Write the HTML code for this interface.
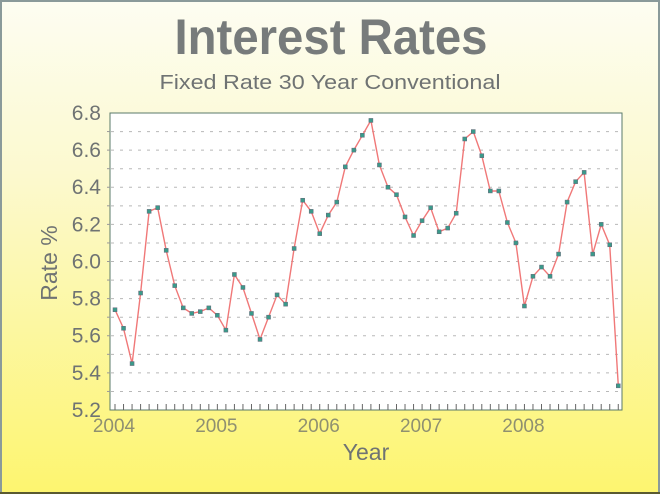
<!DOCTYPE html>
<html><head><meta charset="utf-8"><style>
html,body{margin:0;padding:0;width:660px;height:494px;overflow:hidden}
svg{display:block}
text{font-family:"Liberation Sans",sans-serif}
</style></head><body>
<svg id="s" width="660" height="494" xmlns="http://www.w3.org/2000/svg">
<defs><linearGradient id="bg" x1="0" y1="0" x2="0" y2="1">
<stop offset="0" stop-color="#fdfdf2"/><stop offset="0.35" stop-color="#fcf9cf"/><stop offset="1" stop-color="#fdf56f"/></linearGradient></defs>
<rect x="0" y="0" width="660" height="494" fill="url(#bg)"/>
<rect x="1" y="1" width="658" height="492" fill="none" stroke="#8a9a9a" stroke-width="2"/>
<line x1="0" y1="493" x2="660" y2="493" stroke="#5a5a30" stroke-width="2"/>
<text x="331" y="54" text-anchor="middle" font-size="50" font-weight="bold" fill="#777b7b" textLength="313" lengthAdjust="spacingAndGlyphs">Interest Rates</text>
<text x="330" y="89" text-anchor="middle" font-size="20" fill="#6f7373" textLength="341" lengthAdjust="spacingAndGlyphs">Fixed Rate 30 Year Conventional</text>
<rect x="110" y="113" width="512" height="297" fill="#ffffff" stroke="#5a7a6a" stroke-width="1"/>
<g id="grid"></g>
<g id="yl" font-size="21" fill="#6f7373" text-anchor="end"></g>
<g id="xl" font-size="19" fill="#8f9070" text-anchor="middle"></g>
<text transform="translate(57,263) rotate(-90)" text-anchor="middle" font-size="23" fill="#6f7373">Rate %</text>
<text x="366" y="460" text-anchor="middle" font-size="23" fill="#6f7373">Year</text>
<polyline id="ln" fill="none" stroke="#f07878" stroke-width="1.4"/>
<g id="pts"></g>
</svg>
<script>
var v=[5.74,5.64,5.45,5.83,6.27,6.29,6.06,5.87,5.75,5.72,5.73,5.75,
5.71,5.63,5.93,5.86,5.72,5.58,5.70,5.82,5.77,6.07,6.33,6.27,
6.15,6.25,6.32,6.51,6.60,6.68,6.76,6.52,6.40,6.36,6.24,6.14,
6.22,6.29,6.16,6.18,6.26,6.66,6.70,6.57,6.38,6.38,6.21,6.10,
5.76,5.92,5.97,5.92,6.04,6.32,6.43,6.48,6.04,6.20,6.09,5.33];
var NS="http://www.w3.org/2000/svg";
function el(t,a,p){var e=document.createElementNS(NS,t);for(var k in a)e.setAttribute(k,a[k]);document.getElementById(p).appendChild(e);return e;}
function Y(val){return 113+(6.8-val)*185.6;}
function X(i){return 115+i*8.53;}
for(var g=1;g<16;g++){var y=113+g*297/16;
el('line',{x1:111,x2:621,y1:y,y2:y,stroke:'#b8b8b8','stroke-width':1,'stroke-dasharray':'3,6'},'grid');
el('line',{x1:107,x2:110,y1:y,y2:y,stroke:'#999','stroke-width':1},'grid');}
for(var k=0;k<=8;k++){var val=(6.8-k*0.2).toFixed(1);var t=el('text',{x:101,y:Y(6.8-k*0.2)+7},'yl');t.textContent=val;}
for(var i=0;i<60;i++){el('line',{x1:X(i),x2:X(i),y1:404,y2:410,stroke:'#666','stroke-width':1},'grid');}
for(var yr=0;yr<5;yr++){var t=el('text',{x:X(yr*12)-1,y:432},'xl');t.textContent=2004+yr;}
var p=[];for(var i=0;i<60;i++)p.push(X(i).toFixed(1)+','+Y(v[i]).toFixed(1));
document.getElementById('ln').setAttribute('points',p.join(' '));
for(var i=0;i<60;i++)el('rect',{x:X(i)-2,y:Y(v[i])-2,width:4,height:4,fill:'#3a9a8a',stroke:'#667','stroke-width':0.5},'pts');
</script>
</body></html>
